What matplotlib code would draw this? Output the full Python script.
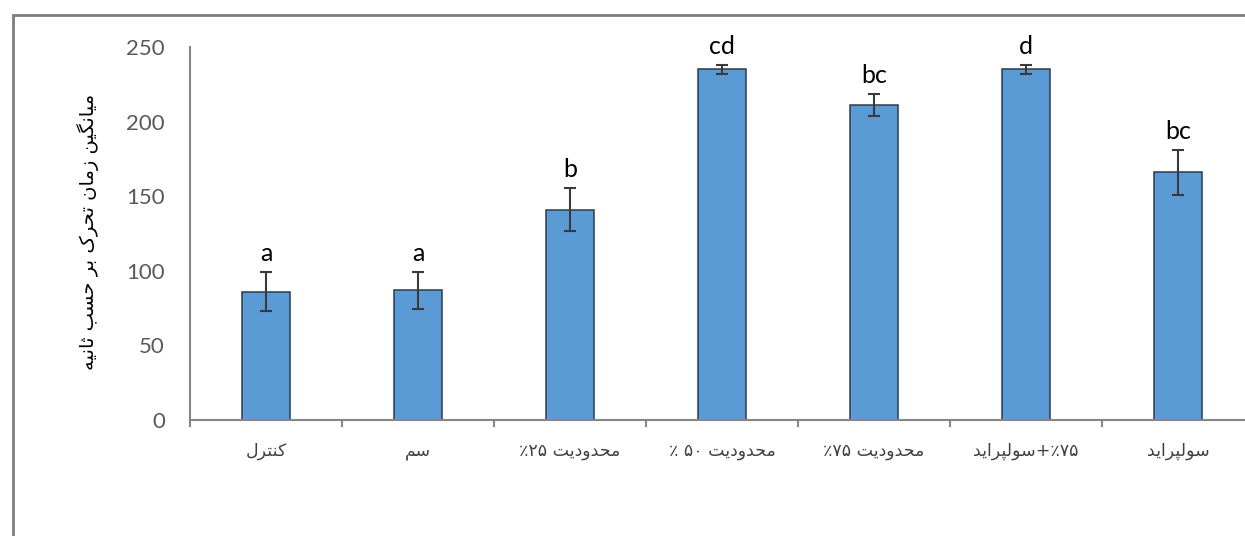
import numpy as np
import matplotlib
matplotlib.use('Agg')
from matplotlib import pyplot as plt
from matplotlib.patches import Rectangle

# Arabic presentation forms: isolated, final, initial, medial
FORMS = {
	'\u0627': ('\uFE8D', '\uFE8E', '\uFE8D', '\uFE8E'),  # alef
	'\u0628': ('\uFE8F', '\uFE90', '\uFE91', '\uFE92'),  # beh
	'\u067E': ('\uFB56', '\uFB57', '\uFB58', '\uFB59'),  # peh
	'\u062A': ('\uFE95', '\uFE96', '\uFE97', '\uFE98'),  # teh
	'\u062B': ('\uFE99', '\uFE9A', '\uFE9B', '\uFE9C'),  # theh
	'\u062D': ('\uFEA1', '\uFEA2', '\uFEA3', '\uFEA4'),  # hah
	'\u062F': ('\uFEA9', '\uFEAA', '\uFEA9', '\uFEAA'),  # dal
	'\u0631': ('\uFEAD', '\uFEAE', '\uFEAD', '\uFEAE'),  # reh
	'\u0632': ('\uFEAF', '\uFEB0', '\uFEAF', '\uFEB0'),  # zain
	'\u0633': ('\uFEB1', '\uFEB2', '\uFEB3', '\uFEB4'),  # seen
	'\u06A9': ('\uFB8E', '\uFB8F', '\uFB90', '\uFB91'),  # keheh
	'\u06AF': ('\uFB92', '\uFB93', '\uFB94', '\uFB95'),  # gaf
	'\u0644': ('\uFEDD', '\uFEDE', '\uFEDF', '\uFEE0'),  # lam
	'\u0645': ('\uFEE1', '\uFEE2', '\uFEE3', '\uFEE4'),  # meem
	'\u0646': ('\uFEE5', '\uFEE6', '\uFEE7', '\uFEE8'),  # noon
	'\u0647': ('\uFEE9', '\uFEEA', '\uFEEB', '\uFEEC'),  # heh
	'\u0648': ('\uFEED', '\uFEEE', '\uFEED', '\uFEEE'),  # waw
	'\u06CC': ('\uFBFC', '\uFBFD', '\uFBFE', '\uFBFF'),  # farsi yeh
}
RIGHT_ONLY = set('\u0627\u062F\u0631\u0632\u0648')

def fa(text):
	# join letters and flip to visual (left-to-right) order
	out = []
	for i, c in enumerate(text):
		if c not in FORMS:
			out.append(c)
			continue
		prev = text[i-1] if i > 0 else ''
		nxt = text[i+1] if i+1 < len(text) else ''
		a = prev in FORMS and prev not in RIGHT_ONLY
		b = nxt in FORMS and c not in RIGHT_ONLY
		f = FORMS[c]
		out.append(f[3] if a and b else f[1] if a else f[2] if b else f[0])
	return ''.join(reversed(out))

groups = [
	fa('کنترل'),
	fa('سم'),
	'٪۲۵ ' + fa('محدودیت'),
	'٪ ۵۰ ' + fa('محدودیت'),
	'٪۷۵ ' + fa('محدودیت'),
	fa('سولپراید') + '+٪۷۵',
	fa('سولپراید'),
]
means = [86, 87, 141, 235, 211, 235, 166]
errors = [13, 12.5, 14.5, 3, 7.5, 3, 15]
letters = ['a', 'a', 'b', 'cd', 'bc', 'd', 'bc']
ylabel = fa('میانگین زمان تحرک بر حسب ثانیه')

fig = plt.figure(figsize=(12.45, 5.36), dpi=100)
fig.patches.append(Rectangle((13/1245, -0.2), 1.2, 0.2 + (536-15)/536, transform=fig.transFigure,
	fill=False, edgecolor='#7f7f7f', linewidth=2))
ax = fig.add_axes([190/1245, 116/536, 1064/1245, 373/536])

x = np.arange(len(groups))
ax.bar(x, means, width=0.31, color='#5B9BD5', edgecolor='#2a3b4c', linewidth=1.1, zorder=2)
ax.errorbar(x, means, yerr=errors, fmt='none', ecolor='#3a3a3a', elinewidth=1.5,
	capsize=4.5, capthick=1.5, zorder=3)
for xi, m, e, l in zip(x, means, errors, letters):
	ax.annotate(l, (xi, m + e), xytext=(0, 5), textcoords='offset points',
		ha='center', va='bottom', fontsize=18, family='Lato', color='black')

ax.set_xlim(-0.5, 6.5)
ax.set_ylim(0, 250)
ax.set_yticks([0, 50, 100, 150, 200, 250])
ax.tick_params(axis='y', length=0, pad=18, labelsize=16, labelcolor='#595959')
for t in ax.get_yticklabels():
	t.set_family('Lato')
ax.set_xticks(x)
ax.set_xticklabels(groups, family='DejaVu Sans', fontsize=12.5, color='#404040')
ax.set_xticks(np.arange(-0.5, 7, 1), minor=True)
ax.tick_params(axis='x', which='major', length=0, pad=16)
ax.tick_params(axis='x', which='minor', length=5, width=1.5, color='#868686')

for side in ['top', 'right']:
	ax.spines[side].set_visible(False)
for side in ['left', 'bottom']:
	ax.spines[side].set_color('#868686')
	ax.spines[side].set_linewidth(1.5)

fig.text(88/1245, 1 - 232/536, ylabel, rotation=90, ha='center', va='center',
	family='DejaVu Sans', fontsize=14, color='black')

plt.savefig('out.png', dpi=100)
